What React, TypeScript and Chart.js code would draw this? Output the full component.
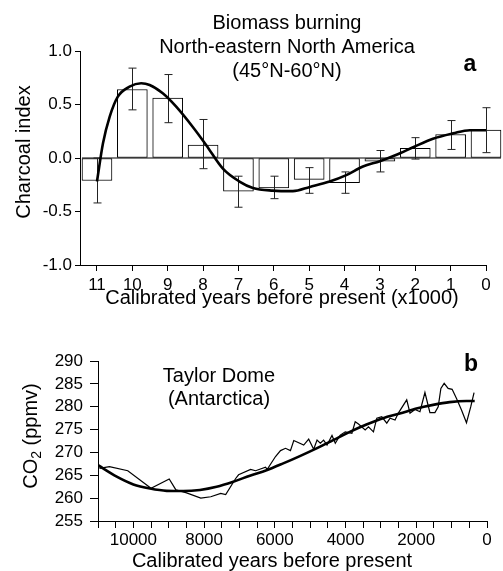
import React, { useEffect, useRef } from "react";
import { Chart, registerables } from "chart.js";

Chart.register(...registerables);

// ---------- Panel a: charcoal index ----------
const charcoalAges = [11, 10, 9, 8, 7, 6, 5, 4, 3, 2, 1, 0];
const charcoalIndex = [-0.21, 0.64, 0.56, 0.12, -0.31, -0.28, -0.2, -0.23, -0.03, 0.09, 0.22, 0.26];
const charcoalErrHigh = [0.0, 0.84, 0.78, 0.36, -0.17, -0.17, -0.09, -0.13, 0.07, 0.19, 0.35, 0.47];
const charcoalErrLow = [-0.42, 0.45, 0.33, -0.1, -0.46, -0.38, -0.33, -0.33, -0.13, -0.01, 0.08, 0.05];
const charcoalFitAges = [11, 10.83, 10.64, 10.41, 10.08, 9.75, 9.51, 9.14, 8.76, 8.29, 7.91, 7.44, 6.97, 6.59, 6.03, 5.46, 4.98, 4.42, 3.95, 3.48, 3.0, 2.53, 2.06, 1.5, 0.93, 0.46, 0];
const charcoalFitValues = [-0.22, 0.137, 0.386, 0.573, 0.666, 0.698, 0.682, 0.605, 0.48, 0.29, 0.12, -0.1, -0.22, -0.28, -0.305, -0.31, -0.27, -0.22, -0.16, -0.08, -0.03, 0.03, 0.1, 0.18, 0.23, 0.26, 0.26];
const charcoalXTicks = [11, 10, 9, 8, 7, 6, 5, 4, 3, 2, 1, 0];
const charcoalTitle = ["Biomass burning", "North-eastern North America", "(45°N-60°N)"];

// ---------- Panel b: Taylor Dome CO2 ----------
const co2Ages = [10958, 10676, 10158, 9501, 8986, 8797, 8515, 8093, 7811, 7530, 7389, 7107, 7025, 6685, 6544, 6262, 6214, 5980, 5839, 5698, 5558, 5464, 5183, 5042, 4901, 4806, 4713, 4620, 4524, 4383, 4290, 4149, 4008, 3820, 3727, 3634, 3445, 3352, 3211, 3116, 2975, 2834, 2741, 2600, 2507, 2270, 2177, 2037, 1896, 1755, 1614, 1473, 1380, 1304, 1211, 1099, 986, 862, 721, 580, 459, 366];
const co2Values = [266.5, 266.9, 266.0, 262.15, 264.2, 261.8, 261.2, 260.0, 260.3, 261.05, 260.8, 264.3, 265.1, 266.3, 266.0, 266.75, 266.3, 269.1, 270.4, 270.9, 270.4, 272.6, 271.6, 272.9, 270.7, 272.7, 272.0, 272.7, 271.6, 273.7, 272.0, 273.8, 274.5, 274.2, 276.7, 276.2, 274.9, 275.6, 274.5, 277.5, 277.8, 276.4, 277.5, 277.1, 278.6, 281.5, 278.6, 279.4, 278.9, 283.1, 278.7, 278.7, 280.0, 284.0, 285.1, 284.0, 283.8, 281.8, 279.3, 276.5, 280.0, 283.1];
const co2FitAges = [11000, 10471, 10000, 9529, 9058, 8588, 8117, 7646, 7175, 6704, 6234, 5763, 5292, 4821, 4350, 3879, 3409, 2938, 2467, 1996, 1525, 1055, 584, 348];
const co2FitValues = [267.2, 264.7, 263.0, 262.1, 261.6, 261.55, 261.8, 262.5, 263.6, 264.9, 266.1, 267.6, 269.2, 270.9, 272.7, 274.5, 276.1, 277.5, 278.5, 279.6, 280.4, 281.0, 281.25, 281.25];
const co2Title = ["Taylor Dome", "(Antarctica)"];

const FONT = '"Liberation Sans", Arial, Helvetica, sans-serif';

function drawText(ctx: CanvasRenderingContext2D, text: string, x: number, y: number, size: number, bold = false) {
  ctx.save();
  ctx.font = `${bold ? "bold " : ""}${size}px ${FONT}`;
  ctx.fillStyle = "#000";
  ctx.textAlign = "center";
  ctx.textBaseline = "middle";
  ctx.fillText(text, x, y);
  ctx.restore();
}

export default function App() {
  const topRef = useRef<HTMLCanvasElement>(null);
  const botRef = useRef<HTMLCanvasElement>(null);

  useEffect(() => {
    const tickFont = { family: FONT, size: 17 };

    const topExtras = {
      id: "topExtras",
      afterDatasetDraw(chart: any, args: any) {
        if (args.index !== 1) return;
        const ctx = chart.ctx;
        const meta = chart.getDatasetMeta(1);
        const ys = chart.scales.y;
        const els = meta.data;
        let left = Infinity, right = -Infinity;
        els.forEach((el: any) => {
          left = Math.min(left, el.x - el.width / 2);
          right = Math.max(right, el.x + el.width / 2);
        });
        const y0 = ys.getPixelForValue(0);
        ctx.save();
        ctx.strokeStyle = "#000";
        ctx.lineWidth = 1;
        ctx.beginPath();
        ctx.moveTo(left, y0);
        ctx.lineTo(right, y0);
        ctx.stroke();
        ctx.strokeStyle = "#222";
        els.forEach((el: any, i: number) => {
          const yh = ys.getPixelForValue(charcoalErrHigh[i]);
          const yl = ys.getPixelForValue(charcoalErrLow[i]);
          const x = Math.round(el.x) + 0.5;
          ctx.beginPath();
          ctx.moveTo(x, yh);
          ctx.lineTo(x, yl);
          ctx.moveTo(x - 4, yh);
          ctx.lineTo(x + 4, yh);
          ctx.moveTo(x - 4, yl);
          ctx.lineTo(x + 4, yl);
          ctx.stroke();
        });
        ctx.restore();
      },
      afterDraw(chart: any) {
        const ctx = chart.ctx;
        drawText(ctx, charcoalTitle[0], 287, 23, 20);
        drawText(ctx, charcoalTitle[1], 287, 47, 20);
        drawText(ctx, charcoalTitle[2], 287, 71, 20);
        drawText(ctx, "a", 470, 65, 23, true);
        drawText(ctx, "Calibrated years before present (x1000)", 282, 298, 20);
        ctx.save();
        ctx.translate(24, 152);
        ctx.rotate(-Math.PI / 2);
        drawText(ctx, "Charcoal index", 0, 0, 20);
        ctx.restore();
      },
    };

    const topChart = new Chart(topRef.current as HTMLCanvasElement, {
      type: "bar",
      data: {
        datasets: [
          {
            type: "line",
            data: charcoalFitAges.map((a, i) => ({ x: a, y: charcoalFitValues[i] })),
            borderColor: "#000",
            borderWidth: 2.6,
            pointRadius: 0,
            cubicInterpolationMode: "monotone",
            order: 0,
          } as any,
          {
            type: "bar",
            data: charcoalAges.map((a, i) => ({ x: a, y: charcoalIndex[i] })),
            backgroundColor: "#fff",
            borderColor: "#000",
            borderWidth: 1,
            borderSkipped: false,
            barThickness: 30,
            clip: false,
            order: 1,
          } as any,
        ],
      },
      options: {
        animation: false,
        responsive: false,
        devicePixelRatio: 1,
        events: [],
        layout: { padding: { top: 51, right: 17, left: 0, bottom: 0 } },
        plugins: { legend: { display: false }, tooltip: { enabled: false } },
        scales: {
          x: {
            type: "linear",
            reverse: true,
            offset: false,
            min: 0,
            max: 11.48,
            afterBuildTicks: (s: any) => {
              s.ticks = charcoalXTicks.map((v) => ({ value: v }));
            },
            afterFit: (s: any) => {
              s.height = 45;
            },
            ticks: { font: tickFont, color: "#000", padding: 4, maxRotation: 0, autoSkip: false, callback: (v: any) => String(v) },
            grid: { drawOnChartArea: false, offset: false, tickLength: 6, color: "#000" },
            border: { color: "#000", width: 1 },
          },
          y: {
            min: -1,
            max: 1,
            afterFit: (s: any) => {
              s.width = 80;
            },
            ticks: { stepSize: 0.5, autoSkip: false, font: tickFont, color: "#000", padding: 3, callback: (v: any) => Number(v).toFixed(1) },
            grid: { drawOnChartArea: false, tickLength: 5, color: "#000" },
            border: { color: "#000", width: 1 },
          },
        },
      } as any,
      plugins: [topExtras],
    });

    const botExtras = {
      id: "botExtras",
      afterDraw(chart: any) {
        const ctx = chart.ctx;
        drawText(ctx, co2Title[0], 219, 66, 20);
        drawText(ctx, co2Title[1], 219, 89, 20);
        drawText(ctx, "b", 471, 55, 23, true);
        drawText(ctx, "Calibrated years before present", 272, 251, 20);
        ctx.save();
        ctx.translate(31, 126);
        ctx.rotate(-Math.PI / 2);
        ctx.fillStyle = "#000";
        ctx.textBaseline = "middle";
        ctx.textAlign = "left";
        const big = `20px ${FONT}`;
        const small = `14px ${FONT}`;
        ctx.font = big;
        const w1 = ctx.measureText("CO").width;
        const w3 = ctx.measureText(" (ppmv)").width;
        ctx.font = small;
        const w2 = ctx.measureText("2").width;
        let x = -(w1 + w2 + w3) / 2;
        ctx.font = big;
        ctx.fillText("CO", x, 0);
        x += w1;
        ctx.font = small;
        ctx.fillText("2", x, 6);
        x += w2;
        ctx.font = big;
        ctx.fillText(" (ppmv)", x, 0);
        ctx.restore();
      },
    };

    const botChart = new Chart(botRef.current as HTMLCanvasElement, {
      type: "line",
      data: {
        datasets: [
          {
            data: co2FitAges.map((a, i) => ({ x: a, y: co2FitValues[i] })),
            borderColor: "#000",
            borderWidth: 2.6,
            pointRadius: 0,
            cubicInterpolationMode: "monotone",
            order: 0,
          } as any,
          {
            data: co2Ages.map((a, i) => ({ x: a, y: co2Values[i] })),
            borderColor: "#000",
            borderWidth: 1.2,
            pointRadius: 0,
            tension: 0,
            order: 1,
          } as any,
        ],
      },
      options: {
        animation: false,
        responsive: false,
        devicePixelRatio: 1,
        events: [],
        layout: { padding: { top: 51, right: 16, left: 0, bottom: 0 } },
        plugins: { legend: { display: false }, tooltip: { enabled: false } },
        scales: {
          x: {
            type: "linear",
            reverse: true,
            min: 0,
            max: 11000,
            afterFit: (s: any) => {
              s.height = 50;
            },
            ticks: {
              stepSize: 500,
              font: tickFont,
              color: "#000",
              padding: 2,
              maxRotation: 0,
              autoSkip: false,
              callback: (v: any) => (Number(v) % 2000 === 0 ? String(v) : ""),
            },
            grid: { drawOnChartArea: false, tickLength: 7, color: "#000" },
            border: { color: "#000", width: 1 },
          },
          y: {
            min: 255,
            max: 290,
            afterFit: (s: any) => {
              s.width = 98;
            },
            ticks: { stepSize: 5, autoSkip: false, font: tickFont, color: "#000", padding: 7, callback: (v: any) => String(v) },
            grid: { drawOnChartArea: false, tickLength: 8, color: "#000" },
            border: { color: "#000", width: 1 },
          },
        },
      } as any,
      plugins: [botExtras],
    });

    return () => {
      topChart.destroy();
      botChart.destroy();
    };
  }, []);

  return (
    <div style={{ position: "absolute", left: 0, top: 0, width: 503, height: 571, background: "#fff" }}>
      <canvas ref={topRef} width={503} height={310} style={{ position: "absolute", left: 0, top: 0 }} />
      <canvas ref={botRef} width={503} height={261} style={{ position: "absolute", left: 0, top: 310 }} />
    </div>
  );
}
